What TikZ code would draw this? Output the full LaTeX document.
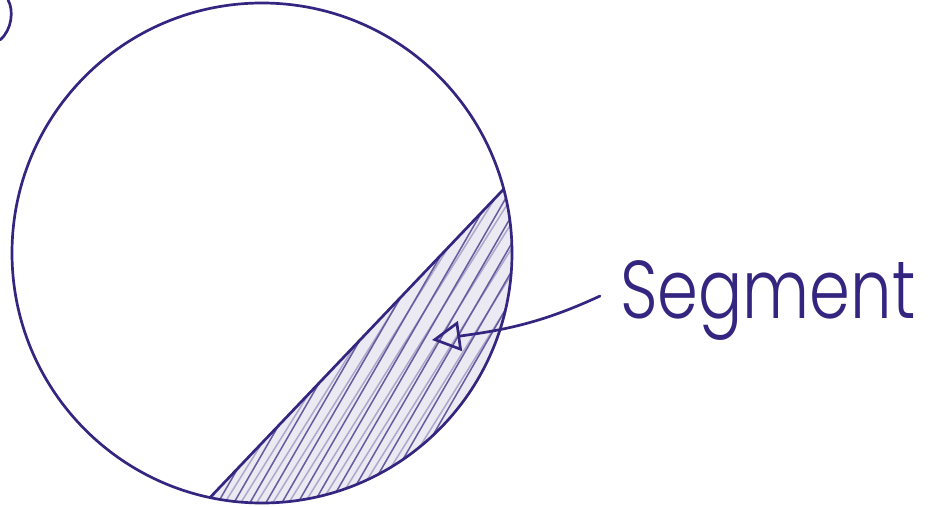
\documentclass[tikz,border=0pt]{standalone}
\usepackage{fontspec}
\usepackage{tikz}
\usepackage{xcolor}
\usetikzlibrary{arrows.meta, calc}
\newfontfamily\handfont{Poppins}[UprightFont=* Light]
\definecolor{ink}{RGB}{52,38,128}

\begin{document}
\begin{tikzpicture}[
  x=0.03cm, y=0.03cm,
  pen/.style={draw=ink, line width=2.3pt, line cap=round, line join=round},
  hatch/.style={draw=ink!75, line width=1.3pt, line cap=round},
  lbl/.style={font=\handfont\fontsize{70}{70}\selectfont, text=ink, inner sep=0, xscale=0.8},
]
\useasboundingbox (0,0) rectangle (942,-507);
% --- kolo i cieciwa ---
\coordinate (O) at (262,-253);
\coordinate (A) at ($(O)+(14.8:250)$);
\coordinate (B) at ($(O)+(-102:250)$);
% --- kreskowanie odcinka ---
\begin{scope}
  \clip (A) arc[start angle=14.8, end angle=-102, radius=250] -- cycle;
  \fill[ink!10] (0,0) rectangle (942,-507);
  \foreach \x in {160,176,...,600} {
    \draw[hatch] (\x,-520) -- ++(60:420);
    \draw[hatch, draw=ink!40] (\x+6,-520) -- ++(58:420);
  }
\end{scope}
\draw[pen] (O) circle[radius=250];
\draw[pen] (A) -- (B);
% --- nawias ---
\draw[pen] (0,-40) .. controls (12,-30) and (14,-10) .. (8,0);
% --- podpis i strzalka ---
\node[lbl, anchor=base west] (seg) at (620,-318) {Segment};
\coordinate (tail) at ($(seg.west)+(-20,4)$);
\coordinate (tip) at (432,-340);
\draw[pen, -{Triangle[open, length=8.5mm, width=9mm]}]
  (tail) to[out=205, in=8] (tip);
\end{tikzpicture}
\end{document}
